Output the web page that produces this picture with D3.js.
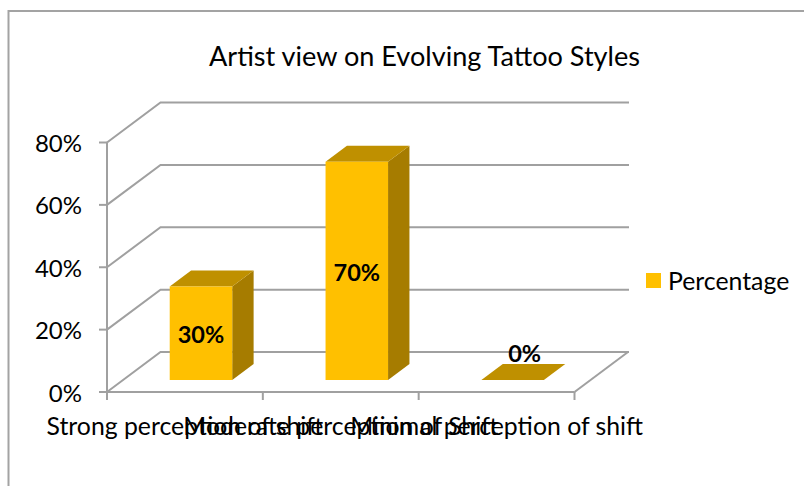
<!DOCTYPE html>
<html>
<head>
<meta charset="utf-8">
<script src="https://cdn.jsdelivr.net/npm/d3@7"></script>
<style>
  html, body { margin: 0; padding: 0; background: #fff; }
  svg { display: block; }
  text { font-family: Lato, "Open Sans", sans-serif; fill: #000; }
</style>
</head>
<body>
<svg id="chart" width="804" height="486"></svg>
<script>
const categories = ["Strong perception of shift", "Moderate perception of Shift", "Minimal perception of shift"];
const values = [0.30, 0.70, 0];
const yTicks = [0, 0.2, 0.4, 0.6, 0.8];
const seriesName = "Percentage";
const chartTitle = "Artist view on Evolving Tattoo Styles";

const svg = d3.select("#chart");
const grid = "#a0a0a0";

// Frame of the chart area: only its top and left edges fall inside the page
svg.append("path").attr("d", "M8.5,486V11H804").attr("fill", "none").attr("stroke", "#a3a3a3").attr("stroke-width", 2);

const x = d3.scaleBand().domain(categories).range([107, 574.5]).paddingInner(0).paddingOuter(0);
const y = d3.scaleLinear().domain([0, 0.8]).range([392, 142.5]);

// Oblique projection of the 3D box: depth d in [0,1] runs from the front plane to the back wall
const depthX = 53.5, depthY = -40;
const project = (px, py, d) => [px + depthX * d, py + depthY * d];
const line = d3.line();

// Walls and floor
const gridG = svg.append("g").attr("fill", "none").attr("stroke", grid).attr("stroke-width", 2);
yTicks.forEach(t => {
  const a = project(107, y(t), 0), b = project(107, y(t), 1), c = project(629 - depthX, y(t), 1);
  gridG.append("path").attr("d", line([a, b, c]));
});
gridG.append("path").attr("d", line([project(107, y(0), 0), project(107, y(0.8), 0)]));
gridG.append("path").attr("d", line([project(574.5, y(0), 0), project(574.5, y(0), 1)]));
gridG.append("path").attr("d", line([project(107, y(0), 0), project(574.5, y(0), 0)]));

// Value axis ticks and labels
yTicks.forEach(t => {
  gridG.append("path").attr("d", line([[99, y(t)], [107, y(t)]]));
  svg.append("text").attr("x", 82).attr("y", y(t) + 9.5)
    .attr("text-anchor", "end").attr("font-size", 24).text(d3.format(".0%")(t));
});

// Category ticks and labels
d3.range(categories.length + 1).forEach(i => {
  const px = 107 + i * x.bandwidth();
  gridG.append("path").attr("d", line([[px, y(0)], [px, 400]]));
});
svg.selectAll(".cat").data(categories).join("text").attr("class", "cat")
  .attr("x", d => x(d) + x.bandwidth() / 2).attr("y", 435)
  .attr("text-anchor", "middle").attr("font-size", 24.8).text(d => d);

// Bars: a front face, a side face and a top face per category
const barWidth = 62.5, barFront = 0.3, barBack = 0.7;
const bars = svg.append("g");
categories.forEach((c, i) => {
  const v = values[i];
  const cx = x(c) + x.bandwidth() / 2 - barWidth / 2;
  const p = (dx, val, d) => project(cx + dx, y(val), d);
  const side = [p(barWidth, 0, barFront), p(barWidth, 0, barBack), p(barWidth, v, barBack), p(barWidth, v, barFront)];
  const top = [p(0, v, barFront), p(barWidth, v, barFront), p(barWidth, v, barBack), p(0, v, barBack)];
  const front = [p(0, 0, barFront), p(barWidth, 0, barFront), p(barWidth, v, barFront), p(0, v, barFront)];
  bars.append("path").attr("d", line(side) + "Z").attr("fill", "#a67c00");
  bars.append("path").attr("d", line(top) + "Z").attr("fill", "#bf9000");
  bars.append("path").attr("d", line(front) + "Z").attr("fill", "#ffc000");

  // The label sits on the front face, or just above the top face when the bar is flat
  const fx = front[0][0] + barWidth / 2;
  const label = bars.append("text").attr("text-anchor", "middle")
    .attr("font-size", 23.5).attr("font-weight", 700).text(d3.format(".0%")(v));
  if (v > 0) {
    label.attr("x", fx).attr("y", (front[0][1] + front[2][1]) / 2 + 10);
  } else {
    label.attr("x", fx + 12).attr("y", top[2][1] - 2);
  }
});

// Legend
svg.append("rect").attr("x", 646).attr("y", 273).attr("width", 15).attr("height", 15).attr("fill", "#ffc000");
svg.append("text").attr("x", 668).attr("y", 290).attr("font-size", 24.8).text(seriesName);

// Title
svg.append("text").attr("x", 424.5).attr("y", 66).attr("text-anchor", "middle").attr("font-size", 27.1).text(chartTitle);
</script>
</body>
</html>
